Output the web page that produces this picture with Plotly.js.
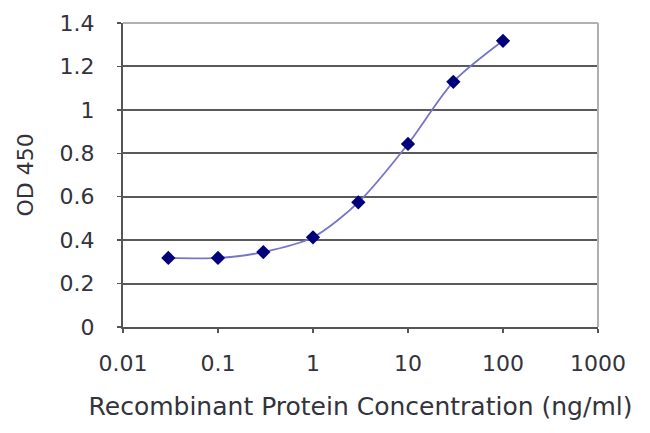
<!DOCTYPE html>
<html>
<head>
<meta charset="utf-8">
<script src="https://cdn.plot.ly/plotly-3.0.1.min.js"></script>
<style>
  html, body { margin: 0; padding: 0; background: #fff; }
  #graph { width: 650px; height: 433px; }
</style>
</head>
<body>
<div id="graph"></div>
<script>
// concentration (ng/ml) and OD 450
var conc = [0.03, 0.1, 0.3, 1, 3, 10, 30, 100];
var od = [0.318, 0.318, 0.345, 0.413, 0.574, 0.843, 1.129, 1.318];

var xTickVals = [0.01, 0.1, 1, 10, 100, 1000];
var xTickText = ['0.01', '0.1', '1', '10', '100', '1000'];
var yTickVals = [0, 0.2, 0.4, 0.6, 0.8, 1, 1.2, 1.4];
var yTickText = ['0', '0.2', '0.4', '0.6', '0.8', '1', '1.2', '1.4'];

var fam = 'DejaVu Sans, Arial, sans-serif';
var txtColor = '#33333c';

var trace_curve = {
  x: conc,
  y: od,
  mode: 'lines',
  line: { color: '#7575cc', width: 1.8, shape: 'spline', smoothing: 0.8 },
  hoverinfo: 'skip'
};

var trace_points = {
  x: conc,
  y: od,
  mode: 'markers',
  marker: { symbol: 'diamond', size: 11, color: '#00007a' }
};

var layout = {
  width: 650,
  height: 433,
  margin: { l: 123, r: 52, t: 23, b: 106 },
  paper_bgcolor: '#fff',
  plot_bgcolor: '#fff',
  showlegend: false,
  font: { family: fam, size: 22, color: txtColor },
  xaxis: {
    type: 'log',
    range: [-2, 3],
    tickvals: xTickVals,
    ticktext: xTickText,
    showgrid: false,
    zeroline: false,
    showline: true,
    linecolor: '#555',
    linewidth: 2,
    ticks: 'outside',
    ticklen: 4,
    tickwidth: 1.5,
    tickcolor: '#555',
    ticklabelstandoff: 12,
    tickfont: { family: fam, size: 22, color: txtColor },
    title: { text: 'Recombinant Protein Concentration (ng/ml)', font: { family: fam, size: 25, color: txtColor }, standoff: 22 }
  },
  yaxis: {
    range: [0, 1.4],
    tickvals: yTickVals,
    ticktext: yTickText,
    showgrid: true,
    gridcolor: '#5a5a5a',
    gridwidth: 2,
    zeroline: false,
    showline: true,
    linecolor: '#555',
    linewidth: 2,
    ticks: 'outside',
    ticklen: 4,
    tickwidth: 1.5,
    tickcolor: '#555',
    ticklabelstandoff: 18,
    tickfont: { family: fam, size: 22, color: txtColor },
    title: { text: 'OD 450', font: { family: fam, size: 22, color: txtColor }, standoff: 20 }
  },
  shapes: [
    { type: 'line', xref: 'paper', yref: 'paper', x0: 0, x1: 1, y0: 1, y1: 1, line: { color: '#b0b0b0', width: 2 } },
    { type: 'line', xref: 'paper', yref: 'paper', x0: 1, x1: 1, y0: 0, y1: 1, line: { color: '#b0b0b0', width: 2 } }
  ]
};

Plotly.newPlot('graph', [trace_curve, trace_points], layout, { staticPlot: true });
</script>
</body>
</html>
